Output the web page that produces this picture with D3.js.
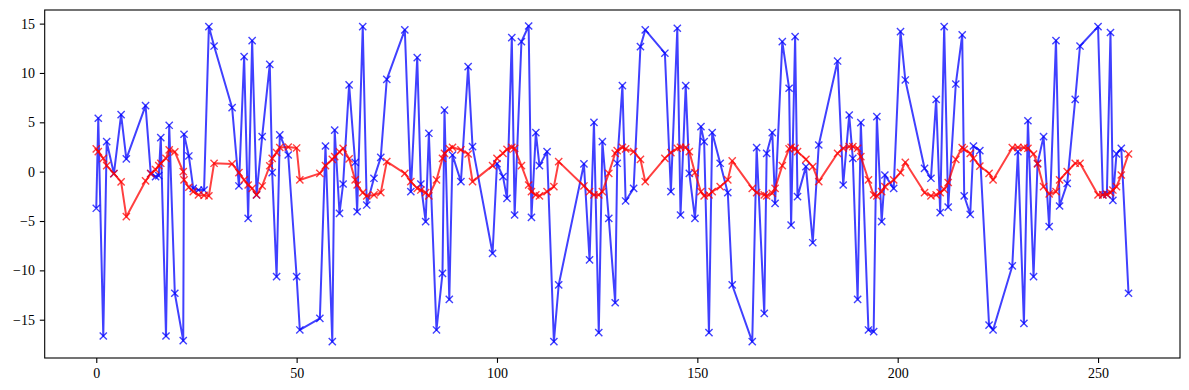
<!DOCTYPE html>
<html><head><meta charset="utf-8">
<script src="https://cdn.jsdelivr.net/npm/d3@7"></script>
<style>body{margin:0;background:#fff} svg{display:block} text{font-family:"Liberation Serif",serif;font-size:14px}</style>
</head><body><svg id="c" width="1189" height="390"></svg>
<script>
const xValues = [0,0.5,1.75,2.6,4.4,6.2,7.5,12.3,13.6,14.8,15.6,16.1,17.4,18.2,19.6,21.7,21.9,23.1,24.2,25.5,26.9,28.1,29.4,33.9,35.6,36.9,37.9,38.9,40.0,41.4,43.3,43.9,45.0,45.8,47.9,50,50.8,55.8,57.2,58.9,59.5,60.7,61.6,63.1,64.6,65.1,66.5,67.5,69.3,71.0,72.5,77.0,78.5,80.1,81.0,82.2,83.0,84.9,86.4,86.9,88.1,88.9,91.0,92.8,93.9,98.9,100.0,101.5,102.5,103.7,104.4,106.1,107.9,108.6,109.7,110.6,112.5,114.2,115.4,121.7,123.1,124.2,125.4,126.3,127.9,129.5,130.0,131.3,132.1,134.1,135.8,137.0,141.9,143.4,145.0,145.8,147.1,148.0,149.4,150.9,151.7,152.9,153.7,155.7,157.6,158.7,163.7,164.8,166.7,167.3,168.7,169.4,171.2,172.9,173.4,174.4,175.0,177.1,178.8,180.3,185.0,186.4,187.9,188.8,190.0,190.8,192.7,194.0,194.8,196.0,196.8,199.0,200.7,201.9,206.7,208.3,209.6,210.6,211.6,212.6,214.5,216.1,216.6,218.1,218.9,220.5,222.8,223.8,228.6,230.0,231.5,232.5,233.9,234.9,236.4,237.8,239.5,240.4,242.3,244.3,245.5,250.0,251.2,252.2,253.1,253.7,254.6,255.8,257.6];
const blueValues = [-3.71,5.41,-16.65,3.04,-0.2,5.77,1.29,6.69,-0.2,-0.5,-0.4,3.45,-16.65,4.7,-12.32,-17.12,3.79,1.59,-1.69,-1.86,-1.86,14.7,12.73,6.48,-1.45,11.65,-4.73,13.27,-2.36,3.55,10.88,-0.1,-10.63,3.72,1.69,-10.63,-16.04,-14.86,2.6,-17.22,4.2,-4.22,-1.25,8.79,0.95,-4.06,14.7,-3.38,-0.67,1.45,9.36,14.36,-2.03,11.55,-1.25,-5.07,3.89,-16.04,-10.3,6.24,-12.94,1.69,-1.01,10.64,2.54,-8.27,0.8,-0.5,-2.7,13.58,-4.39,13.17,14.76,-4.63,3.96,0.61,2.03,-17.22,-11.48,0.78,-8.94,4.99,-16.31,3.04,-4.73,-13.28,0.85,8.72,-2.97,-1.69,12.67,14.36,12.0,-2.03,14.53,-4.39,8.72,-0.17,-4.73,4.56,3.04,-16.31,3.96,0.85,-2.13,-11.48,-17.22,2.43,-14.36,1.86,3.96,-3.21,13.17,8.45,-5.41,13.68,-2.53,0.51,-7.2,2.7,11.21,-1.35,5.74,1.35,-12.94,4.96,-16.04,-16.21,5.57,-5.07,-0.34,-1.69,14.19,9.29,0.34,-0.67,7.33,-4.15,14.7,-3.6,8.88,13.85,-2.46,-4.32,2.6,2.13,-15.54,-16.04,-9.55,2.03,-15.37,5.16,-10.63,0.85,3.55,-5.57,13.28,-3.48,-1.18,7.33,12.73,14.7,-2.36,-2.3,14.1,-2.9,1.8,2.35,-12.32];
const redValues = [2.3,2.03,1.35,0.61,-0.2,-1.04,-4.56,-0.94,-0.2,0.2,0.61,0.85,1.35,2.2,2.0,0,-0.84,-1.58,-2.03,-2.36,-2.4,-2.46,0.85,0.78,-0.1,-0.84,-1.35,-1.69,-2.36,-1.45,0.6,1.35,1.93,2.45,2.5,2.4,-0.84,-0.17,0.61,1.25,1.52,2.0,2.37,1.3,-0.84,-1.35,-2.12,-2.46,-2.36,-2.12,1.02,-0.17,-1.01,-1.69,-1.86,-2.12,-2.46,-0.84,1.35,1.86,2.3,2.47,2.2,1.79,-1.01,0.61,1.35,1.86,2.27,2.47,2.37,0.61,-1.35,-2.03,-2.36,-2.46,-2.03,-1.52,1.02,-1.45,-2.03,-2.36,-2.36,-2.03,-0.17,1.86,2.13,2.47,2.3,2.03,1.25,-1.01,1.35,1.93,2.37,2.47,2.47,2.03,-0.1,-2.03,-2.46,-2.36,-2.03,-1.52,-0.84,1.09,-1.69,-2.12,-2.36,-2.46,-2.19,-1.69,0.61,2.3,2.47,2.37,2.03,1.25,0.51,-1.01,1.86,2.37,2.54,2.54,2.37,1.52,-0.84,-2.36,-2.46,-2.03,-1.52,-0.84,-0.1,0.95,-2.12,-2.46,-2.36,-2.12,-1.79,-1.1,1.25,2.43,2.27,1.86,1.35,0.57,-0.17,-0.84,2.43,2.47,2.43,2.37,1.79,0.78,-1.52,-2.26,-2.03,-0.84,0,0.85,0.85,-2.36,-2.36,-2.3,-2.13,-1.86,-1.52,-0.34,1.79];
const xTicks = [0,50,100,150,200,250];
const yTicks = [-15,-10,-5,0,5,10,15];

const svg = d3.select("#c");
const L=44.7, R=1180, T=10, B=358;
const x = d3.scaleLinear().domain([-12.87,270.45]).range([L,R]);
const y = d3.scaleLinear().domain([-18.88,16.38]).range([B,T]);
const fmt = d => d<0 ? "\u2212"+Math.abs(d) : String(d);

const gx = svg.append("g").attr("transform",`translate(0,${B})`)
  .call(d3.axisBottom(x).tickValues(xTicks).tickSize(4.9).tickPadding(4.9).tickFormat(fmt));
const gy = svg.append("g").attr("transform",`translate(${L},0)`)
  .call(d3.axisLeft(y).tickValues(yTicks).tickSize(4.9).tickPadding(4.9).tickFormat(fmt));
[gx,gy].forEach(g=>{g.select(".domain").remove();
  g.selectAll("line").attr("stroke","#000").attr("stroke-width",1.1);
  g.selectAll("text").attr("fill","#000").style("font-family","'Liberation Serif',serif").style("font-size","14px");});

const pts = xValues.map((xv,i)=>({x:xv,b:blueValues[i],r:redValues[i]}));
const marker = "M-3.6,-3.6L3.6,3.6M-3.6,3.6L3.6,-3.6";
function series(key,color){
  const line = d3.line().x(d=>x(d.x)).y(d=>y(d[key]));
  svg.append("path").datum(pts).attr("d",line).attr("fill","none")
    .attr("stroke",color).attr("stroke-width",2).attr("stroke-opacity",0.75).attr("stroke-linejoin","round");
  svg.append("g").selectAll("path").data(pts).join("path")
    .attr("transform",d=>`translate(${x(d.x)},${y(d[key])})`)
    .attr("d",marker).attr("fill","none").attr("stroke",color).attr("stroke-width",1.4).attr("stroke-opacity",0.75);
}
series("b","rgb(0,0,255)");
series("r","rgb(255,0,0)");

svg.append("rect").attr("x",L).attr("y",T).attr("width",R-L).attr("height",B-T)
  .attr("fill","none").attr("stroke","#000").attr("stroke-width",1.1);
</script></body></html>
